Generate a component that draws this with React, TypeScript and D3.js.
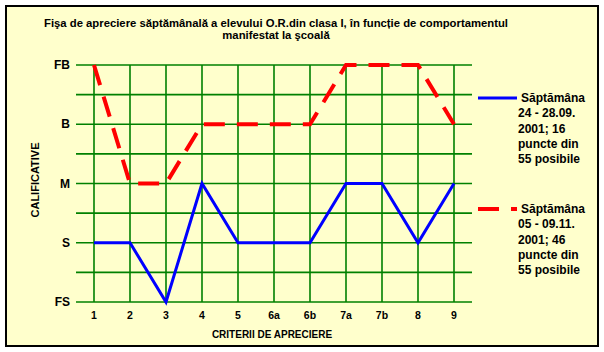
import { useEffect, useRef } from 'react';
import * as d3 from 'd3';

const criteria = ['1', '2', '3', '4', '5', '6a', '6b', '7a', '7b', '8', '9'];
const grades = ['FS', 'S', 'M', 'B', 'FB'];
// grade index: FS=0, S=1, M=2, B=3, FB=4
const week1 = [1, 1, 0, 2, 1, 1, 1, 2, 2, 1, 2];
const week2 = [4, 2, 2, 3, 3, 3, 3, 4, 4, 4, 3];
const legend1 = ['Săptămâna', '24 - 28.09.', '2001; 16', 'puncte din', '55 posibile'];
const legend2 = ['Săptămâna', '05 - 09.11.', '2001; 46', 'puncte din', '55 posibile'];
const titleLines = [
  'Fişa de apreciere săptămânală a elevului O.R.din clasa I, în funcție de comportamentul',
  'manifestat la şcoală',
];

const W = 604;
const H = 352;
const FONT = '"Liberation Sans", Arial, sans-serif';

export default function App() {
  const svgRef = useRef<SVGSVGElement>(null);

  useEffect(() => {
    if (!svgRef.current) return;
    const svg = d3.select(svgRef.current);
    svg.selectAll('*').remove();

    svg
      .append('rect')
      .attr('x', 6)
      .attr('y', 6)
      .attr('width', 592)
      .attr('height', 340)
      .attr('fill', '#ffffcc')
      .attr('stroke', '#000')
      .attr('stroke-width', 2);

    // title
    svg
      .append('g')
      .selectAll('text')
      .data(titleLines)
      .join('text')
      .attr('x', 276)
      .attr('y', (d, i) => 27 + i * 12)
      .attr('text-anchor', 'middle')
      .style('font-family', FONT)
      .style('font-weight', 'bold')
      .style('font-size', '11.3px')
      .text((d) => d);

    const x = d3.scalePoint<string>().domain(criteria).range([94, 454]);
    const y = d3.scaleLinear().domain([0, 4]).range([302, 65]);
    const left = 76;
    const right = 472;

    const grid = svg.append('g').attr('stroke', '#008000').attr('stroke-width', 1.6);
    grid
      .selectAll('line.h')
      .data(d3.range(0, 4.01, 0.5))
      .join('line')
      .attr('class', 'h')
      .attr('x1', left)
      .attr('x2', right)
      .attr('y1', (d) => y(d))
      .attr('y2', (d) => y(d));
    grid
      .selectAll('line.v')
      .data(criteria)
      .join('line')
      .attr('class', 'v')
      .attr('x1', (d) => x(d)!)
      .attr('x2', (d) => x(d)!)
      .attr('y1', y(4))
      .attr('y2', y(0));

    // y labels
    svg
      .append('g')
      .selectAll('text')
      .data(grades)
      .join('text')
      .attr('x', 70)
      .attr('y', (d, i) => y(i) + 4)
      .attr('text-anchor', 'end')
      .style('font-family', FONT)
      .style('font-weight', 'bold')
      .style('font-size', '12px')
      .text((d) => d);

    // x labels
    svg
      .append('g')
      .selectAll('text')
      .data(criteria)
      .join('text')
      .attr('x', (d) => x(d)!)
      .attr('y', 319)
      .attr('text-anchor', 'middle')
      .style('font-family', FONT)
      .style('font-weight', 'bold')
      .style('font-size', '10.5px')
      .text((d) => d);

    svg
      .append('text')
      .attr('x', 272)
      .attr('y', 338)
      .attr('text-anchor', 'middle')
      .style('font-family', FONT)
      .style('font-weight', 'bold')
      .style('font-size', '10px')
      .text('CRITERII DE APRECIERE');

    svg
      .append('text')
      .attr('transform', `translate(39, 180) rotate(-90)`)
      .attr('text-anchor', 'middle')
      .style('font-family', FONT)
      .style('font-weight', 'bold')
      .style('font-size', '11px')
      .text('CALIFICATIVE');

    const line = d3
      .line<number>()
      .x((d, i) => x(criteria[i])!)
      .y((d) => y(d));

    svg
      .append('path')
      .datum(week2)
      .attr('fill', 'none')
      .attr('stroke', '#ff0000')
      .attr('stroke-width', 4)
      .attr('stroke-dasharray', '21 12')
      .attr('d', line);

    svg
      .append('path')
      .datum(week1)
      .attr('fill', 'none')
      .attr('stroke', '#0000ff')
      .attr('stroke-width', 3)
      .attr('d', line);

    // legend
    const legendItems = [
      { color: '#0000ff', dash: null, width: 3, lines: legend1, y: 98 },
      { color: '#ff0000', dash: '21 12', width: 4, lines: legend2, y: 209 },
    ];
    legendItems.forEach((item) => {
      const g = svg.append('g');
      g.append('line')
        .attr('x1', 478)
        .attr('x2', 517)
        .attr('y1', item.y)
        .attr('y2', item.y)
        .attr('stroke', item.color)
        .attr('stroke-width', item.width)
        .attr('stroke-dasharray', item.dash);
      g.selectAll('text')
        .data(item.lines)
        .join('text')
        .attr('x', (d, i) => (i === 0 ? 521 : 518))
        .attr('y', (d, i) => item.y + 4 + i * 15.3)
        .style('font-family', FONT)
        .style('font-weight', 'bold')
        .style('font-size', '12px')
        .text((d) => d);
    });
  }, []);

  return (
    <div style={{ position: 'absolute', left: 0, top: 0, background: '#fff' }}>
      <svg ref={svgRef} width={W} height={H} style={{ display: 'block' }} />
    </div>
  );
}
